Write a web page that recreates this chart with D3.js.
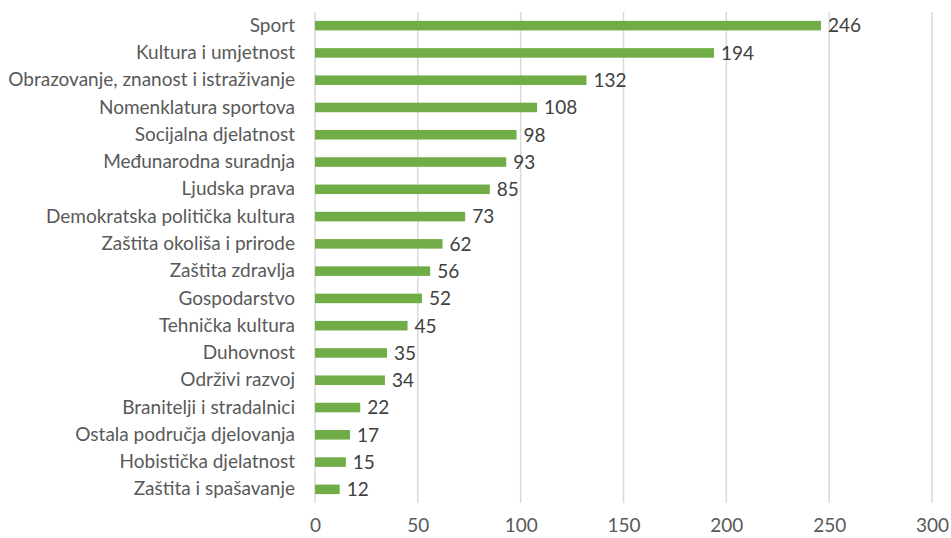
<!DOCTYPE html>
<html>
<head>
<meta charset="utf-8">
<script src="https://cdn.jsdelivr.net/npm/d3@7"></script>
<style>
  html, body { margin: 0; padding: 0; background: #fff; }
  svg { display: block; }
  text { font-family: Lato, "Open Sans", sans-serif; }
</style>
</head>
<body>
<svg id="chart" width="951" height="538"></svg>
<script>
// Broj udruga po području djelovanja
const categories = [
  "Sport",
  "Kultura i umjetnost",
  "Obrazovanje, znanost i istraživanje",
  "Nomenklatura sportova",
  "Socijalna djelatnost",
  "Međunarodna suradnja",
  "Ljudska prava",
  "Demokratska politička kultura",
  "Zaštita okoliša i prirode",
  "Zaštita zdravlja",
  "Gospodarstvo",
  "Tehnička kultura",
  "Duhovnost",
  "Održivi razvoj",
  "Branitelji i stradalnici",
  "Ostala područja djelovanja",
  "Hobistička djelatnost",
  "Zaštita i spašavanje"
];
const values = [246, 194, 132, 108, 98, 93, 85, 73, 62, 56, 52, 45, 35, 34, 22, 17, 15, 12];
const tickValues = [0, 50, 100, 150, 200, 250, 300];

const svg = d3.select("#chart");
const plot = { left: 315, right: 932, top: 12, bottom: 503 };
const fontSize = 19;

const x = d3.scaleLinear().domain([0, 300]).range([plot.left, plot.right]);
const y = d3.scaleBand().domain(categories).range([plot.top, plot.bottom]).paddingInner(0.65).paddingOuter(0.325);

// vertical gridlines
svg.append("g")
  .selectAll("line")
  .data(tickValues)
  .join("line")
  .attr("x1", d => x(d)).attr("x2", d => x(d))
  .attr("y1", plot.top).attr("y2", plot.bottom)
  .attr("stroke", "#d9d9d9").attr("stroke-width", 1.5);

// bars
svg.append("g")
  .selectAll("rect")
  .data(values)
  .join("rect")
  .attr("x", x(0))
  .attr("y", (d, i) => y(categories[i]))
  .attr("width", d => x(d) - x(0))
  .attr("height", y.bandwidth())
  .attr("fill", "#70ad47");

// value labels
svg.append("g")
  .selectAll("text")
  .data(values)
  .join("text")
  .attr("x", d => x(d) + 7)
  .attr("y", (d, i) => y(categories[i]) + y.bandwidth() / 2)
  .attr("dy", "0.36em")
  .attr("font-size", fontSize)
  .attr("fill", "#404040")
  .text(d => d);

// category axis
const yAxis = d3.axisLeft(y).tickSize(0).tickPadding(20);
const gy = svg.append("g").attr("transform", `translate(${plot.left},0)`).call(yAxis);
gy.select(".domain").remove();
gy.selectAll("text").attr("font-size", fontSize).attr("fill", "#595959").attr("font-family", null);

// value axis
const xAxis = d3.axisBottom(x).tickValues(tickValues).tickSize(0).tickPadding(16);
const gx = svg.append("g").attr("transform", `translate(0,${plot.bottom})`).call(xAxis);
gx.select(".domain").remove();
gx.selectAll("text").attr("font-size", fontSize).attr("fill", "#595959").attr("font-family", null);
</script>
</body>
</html>
